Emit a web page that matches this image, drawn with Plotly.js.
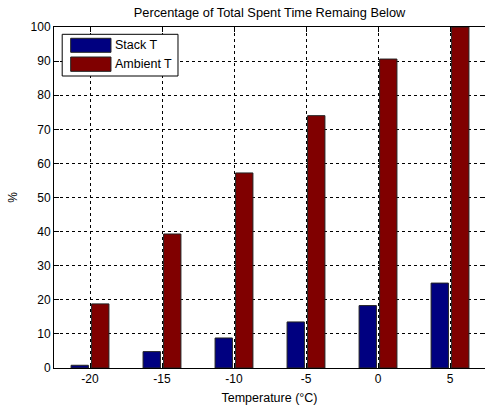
<!DOCTYPE html>
<html>
<head>
<meta charset="utf-8">
<script src="https://cdn.plot.ly/plotly-3.0.1.min.js"></script>
<style>html,body{margin:0;padding:0;background:#fff;}#chart{width:485px;height:409px;}</style>
</head>
<body>
<div id="chart"></div>
<script>
const temperatures = [-20, -15, -10, -5, 0, 5];
const stackT = [0.8, 4.8, 8.8, 13.5, 18.3, 24.9];
const ambientT = [18.8, 39.3, 57.2, 74.0, 90.6, 100];
const seriesNames = ['Stack T', 'Ambient T'];
const seriesColors = ['#000080', '#800000'];
const xTicks = [-20, -15, -10, -5, 0, 5];
const yTicks = [0, 10, 20, 30, 40, 50, 60, 70, 80, 90, 100];

const font = 'Liberation Sans, Arial, sans-serif';

const traces = [stackT, ambientT].map((vals, i) => ({
  type: 'bar',
  x: temperatures,
  y: vals,
  name: seriesNames[i],
  marker: {color: seriesColors[i], line: {color: '#222', width: 1}},
  showlegend: false,
  hoverinfo: 'skip'
}));

// custom MATLAB-style legend
const shapes = [
  {type: 'rect', xref: 'paper', yref: 'paper', x0: 0.019, x1: 0.2877, y0: 0.8563, y1: 0.9786,
   line: {color: '#000', width: 1}, fillcolor: '#fff', layer: 'above'}
];
const annotations = [];
const swY = [[0.9258, 0.9669], [0.870, 0.912]];
seriesNames.forEach((n, i) => {
  shapes.push({type: 'rect', xref: 'paper', yref: 'paper', x0: 0.0387, x1: 0.1322,
    y0: swY[i][0], y1: swY[i][1], line: {color: '#222', width: 1}, fillcolor: seriesColors[i], layer: 'above'});
  annotations.push({xref: 'paper', yref: 'paper', x: 0.1369, y: (swY[i][0] + swY[i][1]) / 2,
    xanchor: 'left', yanchor: 'middle', text: n, showarrow: false,
    font: {family: font, size: 12.5, color: '#000'}});
});

const layout = {
  width: 485, height: 409,
  margin: {l: 54, r: 0, t: 27, b: 41, pad: 0},
  paper_bgcolor: '#fff', plot_bgcolor: '#fff',
  font: {family: font, size: 11, color: '#000'},
  title: {text: 'Percentage of Total Spent Time Remaing Below', font: {family: font, size: 12.8, color: '#000'},
          x: 0.5, xref: 'paper', y: 0.97, yanchor: 'middle'},
  barmode: 'group',
  bargap: 0.43,
  bargroupgap: 0.155,
  xaxis: {
    range: [-22.5, 7.43], tickvals: xTicks, ticktext: xTicks.map(String),
    ticks: 'inside', ticklen: 5, tickcolor: '#000', showline: true, linecolor: '#000', linewidth: 1,
    mirror: 'allticks', showgrid: true, gridcolor: '#000', griddash: '3px,3px', gridwidth: 1,
    zeroline: false, tickfont: {family: font, size: 12, color: '#000'},
    title: {text: 'Temperature (°C)', font: {family: font, size: 12.5, color: '#000'}, standoff: 7}
  },
  yaxis: {
    range: [0, 100], tickvals: yTicks,
    ticks: 'inside', ticklen: 5, tickcolor: '#000', showline: true, linecolor: '#000', linewidth: 1,
    mirror: 'allticks', showgrid: true, gridcolor: '#000', griddash: '3px,3px', gridwidth: 1,
    zeroline: false, tickfont: {family: font, size: 12, color: '#000'},
    title: {text: '%', font: {family: font, size: 12, color: '#000'}, standoff: 10}
  },
  shapes: shapes,
  annotations: annotations
};

Plotly.newPlot('chart', traces, layout, {displayModeBar: false, staticPlot: true});
</script>
</body>
</html>
